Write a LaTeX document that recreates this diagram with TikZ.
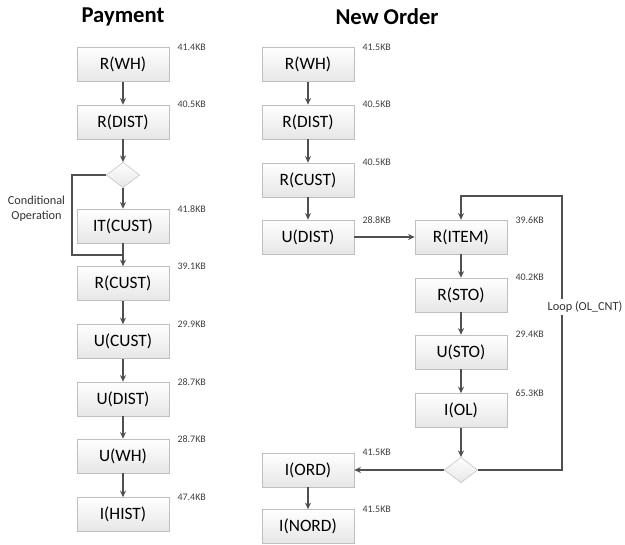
\documentclass[tikz,border=0pt]{standalone}
\usepackage{fontspec}
\setmainfont{Carlito}
\definecolor{boxline}{RGB}{191,191,191}
\definecolor{boxlow}{RGB}{230,230,230}
\definecolor{arrowgray}{RGB}{80,80,80}
\usetikzlibrary{arrows.meta, shapes.geometric, positioning}

\begin{document}
\begin{tikzpicture}[x=0.75pt, y=-0.75pt,
    op/.style={draw=boxline, top color=white, bottom color=boxlow,
               minimum width=69pt, minimum height=25.5pt, inner sep=0pt,
               font=\fontsize{13}{14}\selectfont},
    cond/.style={diamond, draw=boxline, top color=white, bottom color=boxlow,
                 minimum width=25pt, minimum height=19pt, inner sep=0pt},
    kb/.style={font=\fontsize{7.5}{8}\selectfont, text=black!75, inner sep=0pt},
    note/.style={font=\fontsize{9.2}{11}\selectfont, text=black!80, align=center},
    ttl/.style={font=\fontsize{17}{18}\selectfont\bfseries},
    arr/.style={-{Stealth[length=5pt,width=4.5pt]}, line width=0.9pt, arrowgray},
    wire/.style={line width=0.9pt, arrowgray}
  ]
    \useasboundingbox (0,0) rectangle (625,544);

    % Payment
    \node[ttl] (tp) at (123,17) {Payment};
    \node[op] (pw) at (123,64.5) {R(WH)};
    \node[op] (pd) at (123,122) {R(DIST)};
    \node[cond] (pc) at (123,175) {};
    \node[op] (pic) at (123,226) {IT(CUST)};
    \node[op] (prc) at (123,283.5) {R(CUST)};
    \node[op] (puc) at (123,341.5) {U(CUST)};
    \node[op] (pud) at (123,399) {U(DIST)};
    \node[op] (puw) at (123,456) {U(WH)};
    \node[op] (pih) at (123,514.5) {I(HIST)};

    \node[kb, anchor=west, right=6pt of pw.north east] {41.4KB};
    \node[kb, anchor=west, right=6pt of pd.north east] {40.5KB};
    \node[kb, anchor=west, right=6pt of pic.north east] {41.8KB};
    \node[kb, anchor=west, right=6pt of prc.north east] {39.1KB};
    \node[kb, anchor=west, right=6pt of puc.north east] {29.9KB};
    \node[kb, anchor=west, right=6pt of pud.north east] {28.7KB};
    \node[kb, anchor=west, right=6pt of puw.north east] {28.7KB};
    \node[kb, anchor=west, right=6pt of pih.north east] {47.4KB};

    \draw[arr] (pw) -- (pd);
    \draw[arr] (pd) -- (pc);
    \draw[arr] (pc) -- (pic);
    \draw[arr] (pic) -- (prc);
    \draw[arr] (prc) -- (puc);
    \draw[arr] (puc) -- (pud);
    \draw[arr] (pud) -- (puw);
    \draw[arr] (puw) -- (pih);

    \coordinate (pj) at (123,255);
    \draw[wire] (pc.west) -- (72,175) |- (pj);
    \node[note] (pn) at (36.5,209) {Conditional\\Operation};

    % New Order
    \node[ttl] (tn) at (387,17) {New Order};
    \node[op] (nw) at (308,64.5) {R(WH)};
    \node[op] (nd) at (308,122) {R(DIST)};
    \node[op] (nc) at (308,180) {R(CUST)};
    \node[op] (nud) at (308,237) {U(DIST)};
    \node[op] (ni) at (461,237) {R(ITEM)};
    \node[op] (ns) at (461,295) {R(STO)};
    \node[op] (nus) at (461,352) {U(STO)};
    \node[op] (nol) at (461,410.5) {I(OL)};
    \node[cond] (nq) at (461,470) {};
    \node[op] (no) at (308,470) {I(ORD)};
    \node[op] (nno) at (308,526.5) {I(NORD)};

    \node[kb, anchor=west, right=6pt of nw.north east] {41.5KB};
    \node[kb, anchor=west, right=6pt of nd.north east] {40.5KB};
    \node[kb, anchor=west, right=6pt of nc.north east] {40.5KB};
    \node[kb, anchor=west, right=6pt of nud.north east] {28.8KB};
    \node[kb, anchor=west, right=6pt of ni.north east] {39.6KB};
    \node[kb, anchor=west, right=6pt of ns.north east] {40.2KB};
    \node[kb, anchor=west, right=6pt of nus.north east] {29.4KB};
    \node[kb, anchor=west, right=6pt of nol.north east] {65.3KB};
    \node[kb, anchor=west, right=6pt of no.north east] {41.5KB};
    \node[kb, anchor=west, right=6pt of nno.north east] {41.5KB};

    \draw[arr] (nw) -- (nd);
    \draw[arr] (nd) -- (nc);
    \draw[arr] (nc) -- (nud);
    \draw[arr] (nud) -- (ni);
    \draw[arr] (ni) -- (ns);
    \draw[arr] (ns) -- (nus);
    \draw[arr] (nus) -- (nol);
    \draw[arr] (nol) -- (nq);
    \draw[arr] (nq) -- (no);
    \draw[arr] (no) -- (nno);

    \coordinate (nl) at (562,196);
    \draw[arr] (nq.east) -| (nl) -| (ni.north);
    \node[note, fill=white, inner sep=2pt] (nlp) at (585,307) {Loop (OL\_CNT)};
\end{tikzpicture}
\end{document}
